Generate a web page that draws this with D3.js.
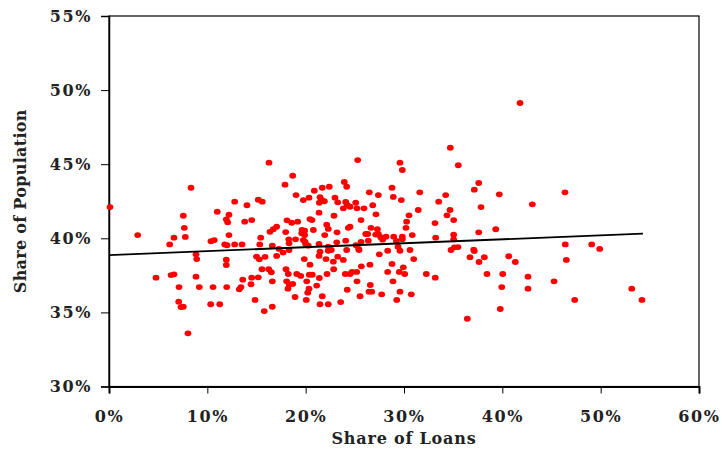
<!DOCTYPE html>
<html>
<head>
<meta charset="utf-8">
<script src="https://cdn.jsdelivr.net/npm/d3@7"></script>
<style>
  html, body { margin: 0; padding: 0; background: #fff; }
  svg { display: block; }
  .axis text { font-family: "DejaVu Serif", serif; font-weight: bold; font-size: 16px; fill: #222; }
  .axis path, .axis line { stroke: #000; }
  .title { font-family: "DejaVu Serif", serif; font-weight: bold; font-size: 16px; fill: #222; }
</style>
</head>
<body>
<svg id="chart" width="722" height="451"></svg>
<script>
// Share of loans (x, %) for each observation
const loanShare = [
  0.10, 2.92, 8.34, 16.27, 18.68, 17.90, 19.02, 12.78, 14.03, 15.18,
  15.59, 11.01, 12.20, 7.56, 11.93, 12.07, 13.80, 14.51, 18.10, 18.58,
  19.19, 7.66, 17.05, 16.71, 16.37, 17.97, 12.20, 6.61, 7.76, 6.17,
  10.37, 10.71, 15.43, 11.77, 12.00, 12.78, 13.53, 15.33, 16.61, 18.28,
  18.31, 18.97, 17.29, 17.70, 18.31, 8.85, 8.92, 11.93, 11.93, 15.00,
  15.29, 15.87, 17.05, 15.56, 16.24, 16.51, 18.00, 18.23, 19.09, 19.50,
  4.78, 6.31, 6.61, 8.85, 7.12, 9.18, 10.58, 11.97, 13.60, 13.42,
  13.25, 14.44, 14.51, 15.18, 16.61, 18.07, 18.34, 18.20, 18.68, 18.92,
  7.09, 7.32, 7.56, 10.34, 11.26, 14.85, 15.79, 16.61, 8.03, 19.86,
  21.46, 21.36, 22.07, 22.30, 20.44, 23.26, 22.81, 23.83, 24.17, 25.43,
  27.49, 28.34, 29.59, 26.54, 25.66, 28.78, 29.93, 30.99, 20.37, 20.67,
  21.39, 22.17, 22.85, 24.03, 24.51, 24.71, 25.19, 28.34, 29.52, 30.07,
  32.27, 33.18, 20.11, 21.12, 25.22, 26.57, 28.88, 20.34, 20.21, 24.23,
  26.44, 26.72, 27.73, 29.59, 30.74, 20.06, 21.69, 23.56, 25.53, 29.26,
  21.46, 22.30, 36.44, 34.78, 36.71, 37.15, 37.63, 38.17, 38.44, 34.71,
  25.29, 29.59, 29.83, 35.52, 37.60, 37.15, 37.83, 23.93, 24.17, 21.69,
  22.40, 20.88, 28.78, 31.60, 26.47, 27.39, 28.91, 29.73, 19.76, 20.34,
  21.46, 21.66, 21.90, 21.39, 22.98, 23.26, 24.07, 24.23, 24.51, 25.09,
  23.83, 25.22, 25.93, 26.82, 33.53, 34.24, 31.45, 34.68, 21.36, 27.15,
  30.51, 34.37, 22.88, 25.63, 20.44, 20.64, 30.27, 35.05, 22.14, 33.15,
  30.20, 19.63, 19.90, 20.78, 19.60, 19.90, 19.76, 19.93, 22.30, 23.19,
  24.34, 24.51, 26.64, 27.29, 27.39, 26.11, 26.31, 27.12, 27.63, 28.17,
  21.94, 28.95, 29.83, 29.83, 30.84, 33.22, 35.05, 35.05, 37.60, 20.00,
  20.27, 21.36, 22.30, 23.16, 24.07, 25.63, 25.12, 26.37, 27.83, 29.22,
  29.39, 25.39, 22.61, 30.61, 35.12, 35.49, 37.09, 41.80, 39.69, 46.37,
  43.05, 39.33, 46.40, 49.09, 49.90, 40.65, 41.32, 46.51, 40.04, 39.94,
  42.61, 42.61, 45.26, 39.79, 47.36, 53.16, 54.20
];

// Share of population (y, %) for the same observations
const popShare = [
  42.11, 40.22, 43.41, 45.10, 44.22, 43.62, 42.92, 42.47, 42.23, 42.60,
  42.47, 41.79, 41.59, 41.52, 41.28, 41.08, 41.12, 41.23, 41.21, 41.05,
  41.12, 40.71, 40.78, 40.61, 40.44, 40.42, 40.22, 40.04, 40.09, 39.59,
  39.80, 39.88, 40.04, 39.59, 39.53, 39.59, 39.59, 39.59, 39.50, 39.93,
  39.66, 39.93, 39.28, 39.04, 39.21, 38.92, 38.60, 38.56, 38.20, 38.77,
  38.58, 38.75, 38.81, 37.91, 37.91, 37.71, 37.91, 37.59, 37.59, 37.46,
  37.34, 37.52, 37.57, 37.41, 36.71, 36.71, 36.71, 36.71, 37.21, 36.71,
  36.56, 36.90, 37.34, 37.37, 37.10, 37.10, 36.87, 36.60, 36.92, 36.04,
  35.72, 35.36, 35.38, 35.55, 35.55, 35.84, 35.09, 35.38, 33.59, 38.60,
  39.10, 38.81, 38.60, 39.16, 38.22, 38.76, 38.42, 38.54, 39.21, 39.21,
  38.92, 39.16, 39.16, 38.22, 38.11, 38.27, 38.04, 38.60, 37.54, 37.54,
  37.32, 37.59, 37.91, 37.59, 37.59, 37.73, 37.73, 37.73, 37.73, 37.59,
  37.59, 37.34, 37.10, 36.81, 37.10, 36.85, 37.10, 36.60, 36.33, 36.53,
  36.40, 36.40, 36.22, 36.40, 36.22, 35.84, 36.09, 35.70, 36.09, 35.84,
  35.55, 35.55, 34.57, 39.21, 38.72, 39.14, 38.40, 38.72, 37.59, 46.11,
  45.28, 45.10, 44.61, 44.93, 43.73, 43.28, 42.11, 43.80, 43.48, 43.41,
  43.48, 43.21, 43.41, 43.10, 43.10, 42.92, 42.79, 42.58, 42.58, 42.74,
  42.77, 42.58, 42.50, 42.40, 42.74, 42.43, 42.45, 42.25, 42.13, 42.40,
  42.02, 42.02, 42.02, 42.23, 42.47, 42.92, 41.91, 41.91, 41.73, 41.62,
  41.55, 41.55, 41.52, 41.23, 41.30, 41.23, 41.12, 41.23, 40.92, 41.03,
  40.71, 40.56, 40.51, 40.56, 40.34, 40.22, 39.88, 39.77, 40.63, 40.40,
  40.71, 40.78, 40.71, 40.61, 40.29, 40.29, 40.29, 40.25, 40.07, 40.11,
  40.22, 40.11, 40.11, 39.93, 40.22, 40.04, 40.24, 39.93, 40.40, 39.62,
  39.50, 39.62, 39.43, 39.73, 39.84, 39.75, 39.53, 39.84, 39.91, 39.82,
  39.43, 39.28, 39.21, 39.21, 39.39, 39.41, 39.23, 49.13, 42.97, 43.10,
  42.29, 40.61, 39.59, 39.59, 39.28, 38.79, 38.40, 38.54, 37.59, 36.71,
  37.41, 36.60, 37.10, 35.23, 35.84, 36.60, 35.84
];

// Linear trend line endpoints (share of loans, share of population)
const trendLoan = [0, 54.3];
const trendPop = [38.87, 40.31];

// Axis ticks
const xTicks = [0, 10, 20, 30, 40, 50, 60];
const yTicks = [30, 35, 40, 45, 50, 55];

const xTitle = "Share of Loans";
const yTitle = "Share of Population";

const svg = d3.select("#chart");
const plot = { left: 109, right: 699, top: 16, bottom: 386.5 };

const x = d3.scaleLinear().domain([0, 60]).range([plot.left, plot.right]);
const y = d3.scaleLinear().domain([30, 55]).range([plot.bottom, plot.top]);

// Frame around the plot area
svg.append("rect")
  .attr("x", plot.left).attr("y", plot.top)
  .attr("width", plot.right - plot.left)
  .attr("height", plot.bottom - plot.top)
  .attr("fill", "none").attr("stroke", "#000").attr("stroke-width", 1.2);

// Axes
const xAxis = svg.append("g").attr("class", "axis")
  .attr("transform", `translate(0,${plot.bottom})`)
  .call(d3.axisBottom(x).tickValues(xTicks).tickSize(7).tickPadding(17)
    .tickFormat(d => d + "%"));
xAxis.select(".domain").attr("stroke-width", 2);

const yAxis = svg.append("g").attr("class", "axis")
  .attr("transform", `translate(${plot.left},0)`)
  .call(d3.axisLeft(y).tickValues(yTicks).tickSize(8).tickPadding(9)
    .tickFormat(d => d + "%"));
yAxis.select(".domain").attr("stroke-width", 1.5);
svg.selectAll(".axis text").attr("letter-spacing", "1.6px");

// Scatter points
const pts = loanShare.map((v, i) => ({ lx: v, py: popShare[i] }));
svg.append("g").selectAll("ellipse")
  .data(pts).join("ellipse")
  .attr("cx", d => x(d.lx))
  .attr("cy", d => y(d.py))
  .attr("rx", 3.4).attr("ry", 2.9)
  .attr("fill", "#ff0000");

// Trend line
svg.append("line")
  .attr("x1", x(trendLoan[0])).attr("y1", y(trendPop[0]))
  .attr("x2", x(trendLoan[1])).attr("y2", y(trendPop[1]))
  .attr("stroke", "#000").attr("stroke-width", 1.8);

// Axis titles
svg.append("text").attr("class", "title")
  .attr("x", (plot.left + plot.right) / 2).attr("y", 444)
  .attr("text-anchor", "middle")
  .attr("letter-spacing", "0.8px")
  .text(xTitle);

svg.append("text").attr("class", "title")
  .attr("transform", `translate(26,${(plot.top + plot.bottom) / 2}) rotate(-90)`)
  .attr("text-anchor", "middle")
  .attr("letter-spacing", "0.3px")
  .text(yTitle);
</script>
</body>
</html>
